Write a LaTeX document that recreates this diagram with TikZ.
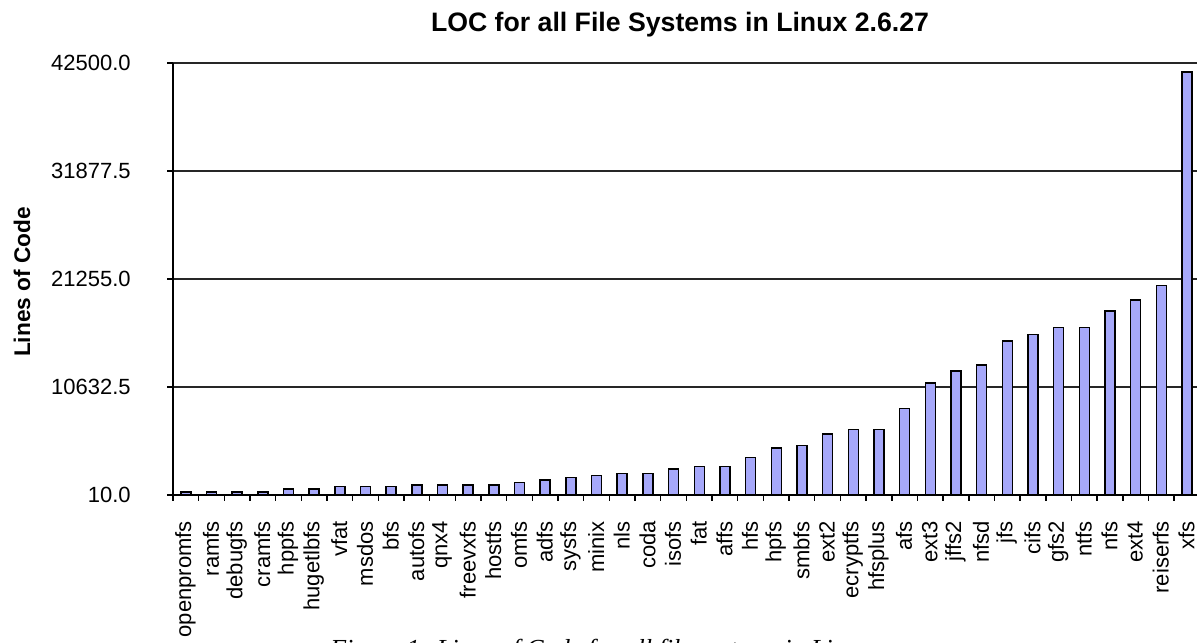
\documentclass[tikz,border=0pt]{standalone}
\usepackage{fontspec}
\setmainfont{Liberation Sans}
\newfontfamily\capfont{Liberation Serif}
\definecolor{barfill}{RGB}{166,168,250}

\begin{document}
\begin{tikzpicture}[x=0.75pt,y=-0.75pt,
  gridline/.style={line width=1.1pt,black!85},
  axisline/.style={line width=1.6pt},
  tickmark/.style={line width=1.1pt},
  bar/.style={draw=black,line width=1.1pt,fill=barfill},
  ticklbl/.style={font=\fontsize{16.5}{18}\selectfont,anchor=east,inner sep=0pt},
  catlbl/.style={font=\fontsize{16.5}{18}\selectfont,rotate=90,anchor=east,inner sep=0pt},
  titlelbl/.style={font=\bfseries\fontsize{20}{24}\selectfont},
  axislbl/.style={font=\bfseries\fontsize{17}{20}\selectfont,rotate=90},
  caplbl/.style={font=\capfont\itshape\fontsize{19.5}{22}\selectfont,anchor=base west,inner sep=0pt}]
\useasboundingbox (0,0) rectangle (1197,643);
\clip (0,0) rectangle (1197,643);

% title and axis label
\node[titlelbl] (title) at (680,25) {LOC for all File Systems in Linux 2.6.27};
\node[axislbl] (ylab) at (22,282) {Lines of Code};

% horizontal grid lines with value labels
\foreach \yy/\t [count=\k] in {63/42500.0,171/31877.5,279/21255.0,387/10632.5} {
  \draw[gridline] (168,\yy) -- (1197,\yy);
  \node[ticklbl] (yt\k) at (131,\yy) {\t};
}
\node[ticklbl] (yt0) at (131,495) {10.0};

% bars, one per file system (values in thousands of lines)
\foreach \n/\v [count=\i from 0] in {openpromfs/0.30, ramfs/0.30, debugfs/0.30, cramfs/0.30,
  hppfs/0.60, hugetlbfs/0.60, vfat/0.82, msdos/0.82, bfs/0.82, autofs/1.0, qnx4/1.0,
  freevxfs/1.0, hostfs/1.0, omfs/1.21, adfs/1.48, sysfs/1.70, minix/1.90, nls/2.10,
  coda/2.10, isofs/2.56, fat/2.79, affs/2.79, hfs/3.71, hpfs/4.62, smbfs/4.85, ext2/6.0,
  ecryptfs/6.46, hfsplus/6.46, afs/8.49, ext3/11.02, jffs2/12.2, nfsd/12.79, jfs/15.15,
  cifs/15.8, gfs2/16.46, ntfs/16.46, nfs/18.1, ext4/19.18, reiserfs/20.59, xfs/41.61} {
  \pgfmathsetmacro\cx{173+(\i+0.5)*25.67}
  \pgfmathsetmacro\bartop{495-\v/42.49*432}
  \draw[bar] (\cx-5,495) rectangle (\cx+5,\bartop);
  \node[catlbl] (c\i) at (\cx-0.5,521) {\n};
}

% category tick marks
\foreach \i in {1,...,39} {
  \draw[tickmark] (173+\i*25.67,495) -- ++(0,6);
}

% axes
\draw[axisline] (173,63) -- (173,501);
\draw[axisline] (167,495) -- (1197,495);
\foreach \yy in {63,171,279,387,495} {
  \draw[tickmark] (167,\yy) -- (173,\yy);
}

% figure caption below the chart, running past the lower edge
\node[caplbl] (cap) at (330,657) {Figure 1: Lines of Code for all file systems in Linux};
\end{tikzpicture}
\end{document}
